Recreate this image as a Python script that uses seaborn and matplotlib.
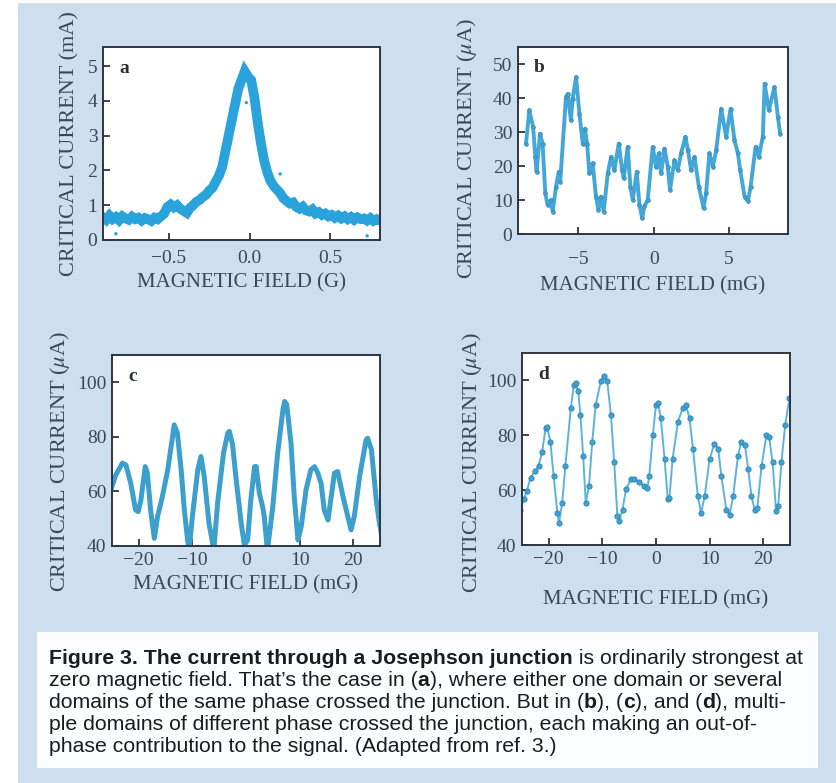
import matplotlib
matplotlib.use("Agg")
import matplotlib.pyplot as plt
import numpy as np
import seaborn as sns
from matplotlib.patches import Rectangle

# ---- data ----
# (a) critical current (mA) vs field (G), a noisy band
a_field = [-0.91, -0.89, -0.87, -0.85, -0.83, -0.81, -0.79, -0.77, -0.75, -0.73,
           -0.71, -0.69, -0.67, -0.65, -0.63, -0.61, -0.59, -0.57, -0.55, -0.53,
           -0.51, -0.49, -0.47, -0.45, -0.43, -0.41, -0.39, -0.37, -0.35, -0.33,
           -0.31, -0.29, -0.27, -0.25, -0.23, -0.21, -0.19, -0.17, -0.15, -0.13,
           -0.11, -0.09, -0.07, -0.05, -0.03, -0.01, 0.01, 0.03, 0.05, 0.07,
           0.09, 0.11, 0.13, 0.15, 0.17, 0.19, 0.21, 0.23, 0.25, 0.27,
           0.29, 0.31, 0.33, 0.35, 0.37, 0.39, 0.41, 0.43, 0.45, 0.47,
           0.49, 0.51, 0.53, 0.55, 0.57, 0.59, 0.61, 0.63, 0.65, 0.67,
           0.69, 0.71, 0.73, 0.75, 0.77, 0.79, 0.81]
a_current = [0.66, 0.58, 0.70, 0.60, 0.66, 0.57, 0.68, 0.62, 0.58, 0.67,
             0.60, 0.64, 0.56, 0.63, 0.60, 0.55, 0.64, 0.60, 0.68, 0.76,
             0.95, 1.02, 0.94, 1.00, 0.90, 0.84, 0.78, 0.92, 1.00, 1.10,
             1.15, 1.24, 1.30, 1.42, 1.50, 1.68, 1.85, 2.10, 2.55, 3.00,
             3.45, 3.90, 4.35, 4.60, 4.85, 4.70, 4.60, 4.10, 3.40, 2.80,
             2.30, 1.95, 1.70, 1.55, 1.45, 1.35, 1.20, 1.12, 1.05, 1.08,
             0.95, 0.90, 0.96, 0.85, 0.82, 0.88, 0.76, 0.80, 0.72, 0.76,
             0.68, 0.72, 0.64, 0.70, 0.62, 0.68, 0.60, 0.66, 0.58, 0.65,
             0.60, 0.62, 0.56, 0.63, 0.55, 0.60, 0.56]
a_stray_field = [-0.83, 0.19, 0.73, -0.02]
a_stray_current = [0.18, 1.9, 0.12, 3.95]

# (b) critical current (uA) vs field (mG)
b_field = [-8.47, -8.25, -8.0, -7.85, -7.77, -7.54, -7.37, -7.19, -7.04, -6.81,
           -6.7, -6.48, -6.3, -6.2, -5.82, -5.7, -5.49, -5.38, -5.15, -4.93,
           -4.71, -4.56, -4.42, -4.27, -4.05, -3.83, -3.67, -3.5, -3.32, -3.05,
           -2.83, -2.61, -2.32, -2.1, -1.99, -1.73, -1.55, -1.39, -1.13, -0.95,
           -0.77, -0.62, -0.4, -0.07, 0.15, 0.33, 0.49, 0.71, 0.93, 1.08,
           1.37, 1.59, 1.81, 2.1, 2.26, 2.48, 2.7, 2.99, 3.3, 3.47,
           3.69, 3.92, 4.14, 4.47, 4.8, 5.09, 5.35, 5.58, 5.73, 6.02,
           6.24, 6.42, 6.75, 6.97, 7.23, 7.35, 7.63, 8.0, 8.23, 8.38]
b_current = [26.6, 36.4, 31.5, 22.7, 18.3, 29.5, 26.6, 12.0, 8.6, 10.0,
             6.6, 13.9, 18.3, 15.4, 40.3, 41.2, 33.4, 39.8, 46.1, 35.4,
             26.6, 31.0, 26.6, 17.8, 20.8, 11.0, 7.1, 11.0, 6.6, 17.8,
             22.7, 18.8, 26.6, 18.8, 16.4, 25.6, 13.9, 10.0, 18.3, 8.6,
             4.7, 8.1, 10.0, 25.6, 19.8, 23.7, 17.8, 25.1, 19.8, 13.0,
             21.7, 18.8, 23.7, 28.6, 24.7, 18.8, 22.7, 13.9, 7.6, 12.0,
             23.7, 19.8, 24.7, 36.8, 28.6, 36.8, 27.6, 23.7, 18.8, 11.0,
             9.6, 13.9, 25.6, 22.7, 28.6, 44.2, 36.4, 43.2, 34.4, 29.5]

# (c) critical current (uA) vs field (mG)
c_field = [-25.2, -24.3, -23.05, -22.4, -21.5, -20.6, -20.1, -19.6, -18.8, -18.4,
           -17.8, -17.1, -16.5, -15.6, -14.6, -13.7, -13.4, -12.8, -12.1, -11.5,
           -10.9, -10.6, -10.0, -9.0, -8.4, -7.8, -6.9, -6.0, -5.3, -4.2,
           -3.4, -3.1, -2.5, -1.9, -0.9, -0.3, 0.3, 0.9, 1.6, 1.9,
           2.5, 3.1, 3.4, 4.0, 5.0, 5.9, 6.9, 7.2, 7.6, 8.4,
           9.0, 9.7, 10.3, 11.2, 12.1, 12.8, 13.4, 14.0, 14.6, 15.3,
           15.9, 16.5, 17.1, 18.1, 19.0, 19.6, 20.2, 21.2, 22.4, 22.7,
           23.4, 24.3, 24.9, 25.3]
c_current = [60.6, 66.0, 70.4, 69.7, 63.0, 53.2, 52.6, 56.9, 69.1, 66.7,
             53.2, 42.8, 50.8, 58.1, 67.9, 80.1, 84.4, 81.4, 67.9, 53.2,
             42.2, 39.0, 50.8, 67.9, 72.8, 65.5, 48.3, 38.5, 55.7, 74.0,
             81.4, 82.0, 77.1, 65.5, 48.3, 40.4, 42.2, 56.9, 69.1, 69.1,
             59.3, 54.4, 50.8, 38.5, 54.4, 74.0, 90.0, 93.0, 91.8, 77.7,
             58.1, 42.2, 47.1, 60.6, 67.9, 69.1, 66.7, 63.0, 53.2, 49.5,
             58.1, 66.7, 67.3, 58.1, 50.8, 45.9, 50.8, 65.5, 78.9, 79.5,
             75.3, 56.9, 48.3, 44.0]

# (d) critical current (uA) vs field (mG)
d_field = [-25.3, -24.7, -24.1, -23.4, -22.5, -21.9, -21.25, -20.6, -20.3, -19.7,
           -19.1, -18.4, -18.1, -17.5, -16.9, -15.9, -15.3, -15.0, -14.5, -14.1,
           -13.6, -13.1, -12.5, -11.9, -11.25, -10.3, -9.7, -9.1, -8.4, -7.8,
           -7.2, -6.9, -6.25, -5.6, -4.7, -4.1, -3.1, -2.2, -1.6, -1.25,
           -0.6, 0.0, 0.4, 0.9, 1.6, 2.2, 2.5, 3.1, 4.1, 5.0,
           5.6, 6.25, 6.9, 7.8, 8.4, 9.1, 10.0, 10.9, 11.6, 12.2,
           13.1, 13.75, 14.4, 15.3, 15.9, 16.6, 17.2, 17.8, 18.4, 18.9,
           19.7, 20.6, 21.1, 21.75, 22.4, 22.8, 23.4, 24.1, 24.9]
d_current = [52.9, 56.6, 59.7, 64.6, 67.1, 68.9, 73.9, 82.5, 83.1, 77.6,
             65.2, 51.7, 48.0, 55.4, 68.9, 89.9, 98.5, 99.1, 96.0, 87.4,
             72.6, 55.4, 61.6, 77.6, 91.1, 99.7, 101.6, 99.7, 87.4, 70.2,
             50.5, 48.6, 52.9, 60.3, 64.0, 64.0, 62.8, 61.6, 60.9, 65.2,
             80.0, 91.1, 91.7, 86.2, 71.4, 56.6, 57.2, 71.4, 85.0, 89.9,
             91.1, 86.2, 75.1, 57.9, 51.7, 57.9, 71.4, 76.9, 75.1, 65.2,
             52.9, 51.1, 57.9, 72.6, 77.6, 76.3, 67.7, 57.9, 52.9, 53.5,
             68.9, 80.0, 79.4, 70.2, 52.3, 54.2, 70.2, 83.7, 93.6]

caption_lines = [
    [("Figure 3. The current through a Josephson junction", True),
     (" is ordinarily strongest at", False)],
    [("zero magnetic field. That\u2019s the case in (", False), ("a", True),
     ("), where either one domain or several", False)],
    [("domains of the same phase crossed the junction. But in (", False), ("b", True),
     ("), (", False), ("c", True), ("), and (", False), ("d", True), ("), multi-", False)],
    [("ple domains of different phase crossed the junction, each making an out-of-", False)],
    [("phase contribution to the signal. (Adapted from ref. 3.)", False)],
]

# ---- styling ----
sns.set_theme(style="ticks")
plt.rcParams["font.family"] = ["Liberation Serif", "DejaVu Serif"]
plt.rcParams["mathtext.fontset"] = "stix"
plt.rcParams["axes.unicode_minus"] = True

BG = "#cddfee"
TXT = "#3b4656"
CAP_FONT = ["Liberation Sans", "DejaVu Sans"]
CAP_SIZE = 15.3
XLABEL_SIZE = 15
YLABEL_SIZE = 16
TICK_SIZE = 14

W, H = 836, 783
fig = plt.figure(figsize=(W / 100, H / 100), dpi=100)
fig.patch.set_facecolor("white")

# background layer: blue panel and white caption box
bg = fig.add_axes([0, 0, 1, 1], zorder=-5)
bg.set_xlim(0, W)
bg.set_ylim(H, 0)
bg.axis("off")
bg.add_patch(Rectangle((18, 3), W - 18, H - 3, facecolor=BG, edgecolor="none"))
bg.add_patch(Rectangle((37, 632), 781, 136, facecolor="#fbfdfe", edgecolor="none"))


def make_axes(px_left, px_top, px_right, px_bottom):
    return fig.add_axes([px_left / W, 1 - px_bottom / H,
                         (px_right - px_left) / W, (px_bottom - px_top) / H])


def style_axes(ax, letter, ylabel, xpad, xlabpad, ylabpad, ylab_y):
    ax.set_facecolor("white")
    for s in ax.spines.values():
        s.set_color("#2f3540")
        s.set_linewidth(1.4)
    ax.tick_params(direction="in", length=5, width=1.3, color="#2f3540",
                   labelsize=TICK_SIZE, labelcolor=TXT, top=False, right=False, pad=4)
    ax.tick_params(axis="x", pad=xpad)
    ax.set_xlabel("MAGNETIC FIELD (G)" if letter == "a" else "MAGNETIC FIELD (mG)",
                  fontsize=XLABEL_SIZE, color=TXT, labelpad=xlabpad)
    ax.set_ylabel(ylabel, fontsize=YLABEL_SIZE, color=TXT, labelpad=ylabpad)
    ax.yaxis.label.set_y(ylab_y)
    ax.text(0.06, 0.89, letter, transform=ax.transAxes, fontsize=14,
            fontweight="bold", color="#2a2f38", va="center", ha="left")


ua = "CRITICAL CURRENT ($\\mu$A)"

# (a)
ax = make_axes(103, 47, 380, 240)
sns.lineplot(x=a_field, y=a_current, ax=ax, color="#2aa2dc", lw=7, sort=False,
             solid_joinstyle="miter")
sns.scatterplot(x=a_stray_field, y=a_stray_current, ax=ax, color="#2aa2dc", s=6,
                edgecolor="none")
ax.set_xlim(-0.91, 0.81)
ax.set_ylim(0, 5.55)
ax.set_xticks([-0.5, 0.0, 0.5])
ax.set_xticklabels(["\u22120.5", "0.0", "0.5"])
ax.set_yticks([0, 1, 2, 3, 4, 5])
style_axes(ax, "a", "CRITICAL CURRENT (mA)", xpad=7, xlabpad=5, ylabpad=6, ylab_y=0.5)

# (b)
ax = make_axes(518, 47, 788, 234)
sns.lineplot(x=b_field, y=b_current, ax=ax, color="#45a6d8", lw=2.8, sort=False,
             marker="o", markersize=2.5, markeredgecolor="#3591c2")
ax.set_xlim(-9, 8.9)
ax.set_ylim(0, 55)
ax.set_xticks([-5, 0, 5])
ax.set_xticklabels(["\u22125", "0", "5"])
ax.set_yticks([0, 10, 20, 30, 40, 50])
style_axes(ax, "b", ua, xpad=12, xlabpad=6, ylabpad=10, ylab_y=0.46)

# (c)
ax = make_axes(112, 355, 380, 546)
sns.lineplot(x=c_field, y=c_current, ax=ax, color="#3d9fcb", lw=3.6, sort=False,
             solid_joinstyle="round")
ax.set_xlim(-25, 25)
ax.set_ylim(40, 110)
ax.set_xticks([-20, -10, 0, 10, 20])
ax.set_xticklabels(["\u221220", "\u221210", "0", "10", "20"])
ax.set_yticks([40, 60, 80, 100])
style_axes(ax, "c", ua, xpad=4, xlabpad=5, ylabpad=4, ylab_y=0.445)

# (d)
ax = make_axes(522, 353, 790, 545)
sns.lineplot(x=d_field, y=d_current, ax=ax, color="#5cb3dc", lw=1.4, sort=False,
             marker="o", markersize=3.8, markerfacecolor="#3ea2d4",
             markeredgecolor="#2f86b3", markeredgewidth=0.6)
ax.set_xlim(-25, 25)
ax.set_ylim(40, 110)
ax.set_xticks([-20, -10, 0, 10, 20])
ax.set_xticklabels(["\u221220", "\u221210", "0", "10", "20"])
ax.set_yticks([40, 60, 80, 100])
style_axes(ax, "d", ua, xpad=4, xlabpad=16, ylabpad=2, ylab_y=0.43)

# caption, bold and plain pieces chained one after the other
baselines = [664, 686, 708, 730, 752]
for line, yb in zip(caption_lines, baselines):
    prev = None
    for txt, bold in line:
        weight = "bold" if bold else "normal"
        if prev is None:
            prev = bg.text(49, yb, txt, fontsize=CAP_SIZE, family=CAP_FONT,
                           color="#1c1c1c", fontweight=weight, va="baseline", ha="left")
        else:
            prev = bg.annotate(txt, xy=(1, 0), xycoords=prev, va="bottom", ha="left",
                               fontsize=CAP_SIZE, family=CAP_FONT, color="#1c1c1c",
                               fontweight=weight)

fig.savefig("out.png", dpi=100, facecolor=fig.get_facecolor())
